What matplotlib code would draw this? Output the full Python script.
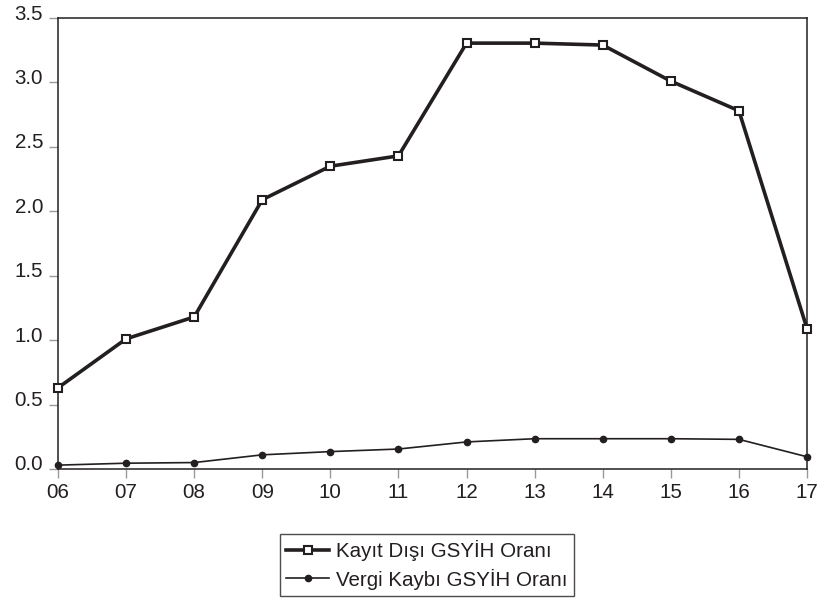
import matplotlib
matplotlib.use("Agg")
import matplotlib.pyplot as plt
import matplotlib.transforms as mtransforms

years = ["06", "07", "08", "09", "10", "11", "12", "13", "14", "15", "16", "17"]
kayit_disi = [0.63, 1.01, 1.18, 2.09, 2.35, 2.43, 3.305, 3.305, 3.29, 3.01, 2.78, 1.09]
vergi_kaybi = [0.03, 0.045, 0.05, 0.11, 0.135, 0.155, 0.21, 0.235, 0.235, 0.235, 0.23, 0.095]
yticks = [0.0, 0.5, 1.0, 1.5, 2.0, 2.5, 3.0, 3.5]
labels = ["Kayıt Dışı GSYİH Oranı", "Vergi Kaybı GSYİH Oranı"]

plt.rcParams['font.family'] = ['Liberation Sans', 'DejaVu Sans']
fig = plt.figure(figsize=(8.24, 6.01), dpi=100)
ax = fig.add_axes([58/824, 1-469/601, (807-58)/824, (469-18)/601])

x = list(range(len(years)))
col = "#231f20"
ax.plot(x, kayit_disi, color=col, lw=2.6, marker="s", ms=5.5, mfc="white",
        mec=col, mew=1.5, label=labels[0], clip_on=False, zorder=3)
ax.plot(x, vergi_kaybi, color=col, lw=1.2, marker="o", ms=4.5, mfc=col,
        mec=col, label=labels[1], clip_on=False, zorder=3)

ax.set_xlim(0, len(years) - 1)
ax.set_ylim(0, 3.5)
ax.set_xticks(x)
ax.set_xticklabels(years)
ax.set_yticks(yticks)
ax.set_yticklabels([f"{v:.1f}" for v in yticks])
ax.tick_params(axis="both", direction="out", length=6.5, width=1, color="#999999",
               labelsize=14.8, labelcolor="#231f20")
ax.tick_params(axis="x", pad=3.6)
ax.tick_params(axis="y", pad=4.3)
off = mtransforms.ScaledTranslation(0, 6/100, fig.dpi_scale_trans)
for lab in ax.get_yticklabels():
    lab.set_transform(lab.get_transform() + off)
for s in ax.spines.values():
    s.set_color(col)
    s.set_linewidth(1.1)

leg = ax.legend(loc="center", bbox_to_anchor=(427/824, 1-565/601),
                bbox_transform=fig.transFigure, frameon=True, fancybox=False,
                edgecolor=col, fontsize=14.8, handlelength=2.1, handletextpad=0.35,
                borderpad=0.3, labelspacing=0.35, borderaxespad=0)
leg.get_frame().set_linewidth(1.0)
for t in leg.get_texts():
    t.set_color(col)

fig.savefig("out.png", dpi=100)
